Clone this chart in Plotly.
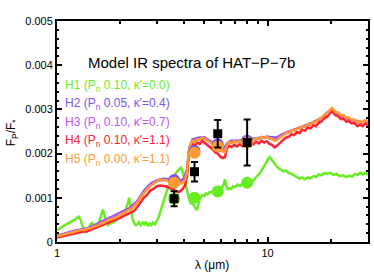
import plotly.graph_objects as go

SCALE = 1e-5  # values below are in units of 1e-5 (F_p/F_*)

# Model wavelength grid (micron) for H4 / H5
wl_main = [1.00,1.04,1.08,1.12,1.16,1.20,1.25,1.30,1.35,1.40,
           1.45,1.50,1.56,1.62,1.68,1.74,1.80,1.87,1.94,2.01,
           2.08,2.16,2.24,2.32,2.40,2.49,2.58,2.67,2.77,2.87,
           2.97,3.08,3.19,3.30,3.42,3.54,3.66,3.79,3.92,4.06,
           4.15,4.22,4.30,4.40,4.52,4.64,4.77,4.90,5.04,5.18,
           5.33,5.48,5.64,5.80,5.97,6.14,6.28,6.40,6.55,6.75,
           6.95,7.16,7.38,7.60,7.83,8.07,8.31,8.56,8.82,9.09,
           9.36,9.64,9.93,10.2,10.5,10.8,11.1,11.5,11.8,12.2,
           12.6,13.0,13.4,13.8,14.2,14.6,15.1,15.5,16.0,16.5,
           17.0,17.5,18.0,18.6,19.2,19.8,20.3,21.0,21.6,22.3,
           23.0,23.7,24.4,25.1,25.9,26.7,27.5,28.3,29.1,30.0]

h5 = [13,15,17,19,20,23,24,27,27,30,
      31,35,37,42,44,49,51,55,57,63,
      65,71,74,80,88,100,110,118,126,132,
      137,141,139,140,136,137,133,134,132,140,
      160,205,220,229,226,232,231,237,233,230,
      224,222,215,214,207,205,203,218,226,224,
      228,225,229,226,231,228,233,230,235,232,
      238,235,239,234,233,229,231,237,240,246,
      247,253,251,257,255,262,261,267,266,272,
      271,278,280,287,290,299,303,294,293,286,
      287,280,282,276,277,270,274,270,276,272]

h4 = [10,12,14,15,17,19,21,22,24,25,
      28,30,33,36,40,42,46,48,52,55,
      59,63,66,70,78,90,100,106,116,120,
      126,128,127,126,122,120,115,113,118,128,
      150,198,214,222,218,225,222,229,224,220,
      214,210,203,200,193,190,192,210,218,215,
      220,216,221,217,223,219,225,221,227,223,
      229,225,228,222,220,214,218,226,230,236,
      238,244,242,249,246,254,252,259,257,264,
      262,270,272,280,283,292,296,287,285,278,
      279,272,274,268,269,262,266,262,268,264]

# Coarser grid for H2 / H3
wl_h23 = [1.0,1.2,1.4,1.6,1.8,2.0,2.2,2.4,2.6,2.8,3.0,3.2,3.4,3.6,3.8,4.0,
          4.15,4.25,4.4,4.7,5.0,5.3,5.6,5.9,6.2,6.4,6.7,7.2,8,9,10,10.5,
          11,12,14,16,18,20,22,25,28,30]
h2 = [14,25,31,44,55,66,76,92,117,133,140,143,142,141,138,142,
      165,212,232,236,237,230,222,218,210,222,229,229,232,235,238,237,
      236,246,258,268,280,300,288,277,271,273]
h3 = [13,24,30,43,53,64,74,90,115,131,138,141,139,139,136,140,
      162,210,230,234,235,228,219,215,207,220,227,227,231,234,237,235,
      233,245,257,267,279,299,287,276,270,272]

# H1 grid and values
wl_h1 = [1.00,1.03,1.06,1.09,1.12,1.15,1.18,1.21,1.24,1.27,1.29,1.32,1.35,1.38,1.41,
         1.44,1.47,1.50,1.53,1.56,1.59,1.62,1.65,1.68,1.71,1.74,1.77,1.81,1.85,1.89,
         1.93,1.97,2.01,2.05,2.09,2.13,2.17,2.20,2.23,2.26,2.29,2.33,2.37,2.41,2.45,
         2.50,2.55,2.60,2.65,2.70,2.75,2.80,2.86,2.92,2.98,3.04,3.10,3.17,3.24,3.31,
         3.38,3.45,3.52,3.59,3.66,3.73,3.80,3.87,3.94,4.00,4.06,4.12,4.18,4.25,4.32,
         4.39,4.46,4.53,4.60,4.67,4.75,4.83,4.91,5.00,5.10,5.20,5.30,5.40,5.50,5.62,
         5.74,5.86,5.98,6.10,6.20,6.28,6.36,6.45,6.55,6.70,6.85,7.00,7.20,7.40,7.60,
         7.80,8.00,8.20,8.40,8.60,8.80,9.00,9.20,9.40,9.60,9.80,10.0,10.2,10.4,10.6,
         10.8,11.0,11.3,11.6,11.9,12.2,12.6,13.0,13.4,13.8,14.2,14.6,15.0,15.5,16.0,
         16.5,17.0,17.5,18.0,18.6,19.2,19.8,20.5,21.2,22.0,22.8,23.6,24.4,25.2,26.0,
         26.8,27.6,28.4,29.2,30.0]
h1 = [27,30,35,38,42,45,48,50,54,57,52,35,24,22,27,
      40,43,36,32,34,45,60,73,62,45,38,40,45,44,47,
      50,55,60,66,70,76,88,100,85,62,50,42,38,40,45,
      38,44,40,46,36,42,38,44,40,48,56,70,85,100,115,
      126,132,140,150,155,160,164,168,162,150,135,122,110,95,88,
      86,84,78,72,80,95,102,106,104,110,108,113,112,115,113,
      117,115,120,124,132,142,128,118,122,120,126,124,130,127,132,
      130,135,133,138,140,146,150,156,163,170,178,185,192,188,182,
      176,172,167,164,160,162,156,154,150,147,143,146,142,146,144,
      149,147,153,151,156,154,157,152,154,149,151,147,150,148,154,
      152,157,153,156,152]

# Spitzer IRAC bands: observations and band-averaged models
band_wl = [3.6, 4.5, 5.8, 8.0]
obs = [98, 159, 245, 225]
obs_err = [17, 22, 31, 52]
h1_band = [98, 100, 114, 134]
h2_band = [140, 206, 221, 229]
h5_band = [134, 202, 216, 225]

legend_labels = [
    "H1 (P<sub>n</sub> 0.10, κ′=0.0)",
    "H2 (P<sub>n</sub> 0.05, κ′=0.4)",
    "H3 (P<sub>n</sub> 0.10, κ′=0.7)",
    "H4 (P<sub>n</sub> 0.10, κ′=1.1)",
    "H5 (P<sub>n</sub> 0.00, κ′=1.1)",
]
colors = ["#66ee22", "#7755ee", "#bb55ee", "#ff2233", "#ff9933"]

def sc(vals):
    return [v * SCALE for v in vals]

fig = go.Figure()
series = [(wl_h1, h1), (wl_h23, h2), (wl_h23, h3), (wl_main, h4), (wl_main, h5)]
for (wl, vals), c in zip(series, colors):
    fig.add_trace(go.Scatter(x=wl, y=sc(vals), mode="lines",
                             line=dict(color=c, width=2.5), showlegend=False))

fig.add_trace(go.Scatter(x=band_wl, y=sc(h1_band), mode="markers",
                         marker=dict(color=colors[0], size=12), showlegend=False))
fig.add_trace(go.Scatter(x=band_wl, y=sc(h2_band), mode="markers",
                         marker=dict(color=colors[1], size=12), showlegend=False))
fig.add_trace(go.Scatter(x=band_wl, y=sc(h5_band), mode="markers",
                         marker=dict(color=colors[4], size=12), showlegend=False))
fig.add_trace(go.Scatter(x=band_wl, y=sc(obs), mode="markers",
                         marker=dict(color="black", size=9, symbol="square"),
                         error_y=dict(type="data", array=sc(obs_err), color="black",
                                      thickness=2, width=3.5),
                         showlegend=False))

FONT = "Liberation Sans, Arial, sans-serif"
ann = []
ys = [86, 104, 123, 141, 160]
for lab, c, yp in zip(legend_labels, colors, ys):
    ann.append(dict(text=lab, x=(63 - 57) / 313, y=(242 - yp) / 221, xref="paper", yref="paper",
                    xanchor="left", yanchor="middle", showarrow=False,
                    font=dict(family=FONT, size=12, color=c)))
ann.append(dict(text="Model IR spectra of HAT−P−7b", x=(192 - 57) / 313, y=(242 - 62) / 221,
                xref="paper", yref="paper", xanchor="center", yanchor="middle", showarrow=False,
                font=dict(family=FONT, size=15, color="black")))
ann.append(dict(text="λ (μm)", x=(213 - 57) / 313, y=(242 - 265) / 221,
                xref="paper", yref="paper", xanchor="center", yanchor="middle", showarrow=False,
                font=dict(family=FONT, size=12, color="black")))
ann.append(dict(text="F<sub>P</sub>/F<sub>*</sub>", x=(12 - 57) / 313, y=(242 - 132) / 221,
                xref="paper", yref="paper", xanchor="center", yanchor="middle",
                showarrow=False, textangle=-90,
                font=dict(family=FONT, size=12, color="black")))

x_minor = [2, 3, 4, 5, 6, 7, 8, 9, 20, 30]

fig.update_layout(
    width=374, height=274,
    margin=dict(l=57, r=4, t=21, b=32),
    paper_bgcolor="white", plot_bgcolor="white",
    font=dict(family=FONT, size=11, color="black"),
    annotations=ann,
    xaxis=dict(type="log", range=[0, 1.4771], tickvals=[1, 10], ticktext=["1", "10"],
               ticks="inside", ticklen=5, tickwidth=1.5, tickcolor="black",
               showline=True, linewidth=2, linecolor="black", mirror="allticks",
               showgrid=False, zeroline=False,
               minor=dict(tickvals=x_minor, ticks="inside", ticklen=3, tickcolor="black", showgrid=False),
               tickfont=dict(family=FONT, size=11)),
    yaxis=dict(range=[0, 0.005], tickvals=[0, 0.001, 0.002, 0.003, 0.004, 0.005],
               ticktext=["0", "0.001", "0.002", "0.003", "0.004", "0.005"],
               ticks="inside", ticklen=5, tickwidth=1.5, tickcolor="black",
               showline=True, linewidth=2, linecolor="black", mirror="allticks",
               showgrid=False, zeroline=False,
               minor=dict(dtick=0.0002, ticks="inside", ticklen=2, tickcolor="black", showgrid=False),
               tickfont=dict(family=FONT, size=11)),
)

fig.write_html("out.html", config={"displayModeBar": False},
               post_script="document.body.style.margin='0';")
